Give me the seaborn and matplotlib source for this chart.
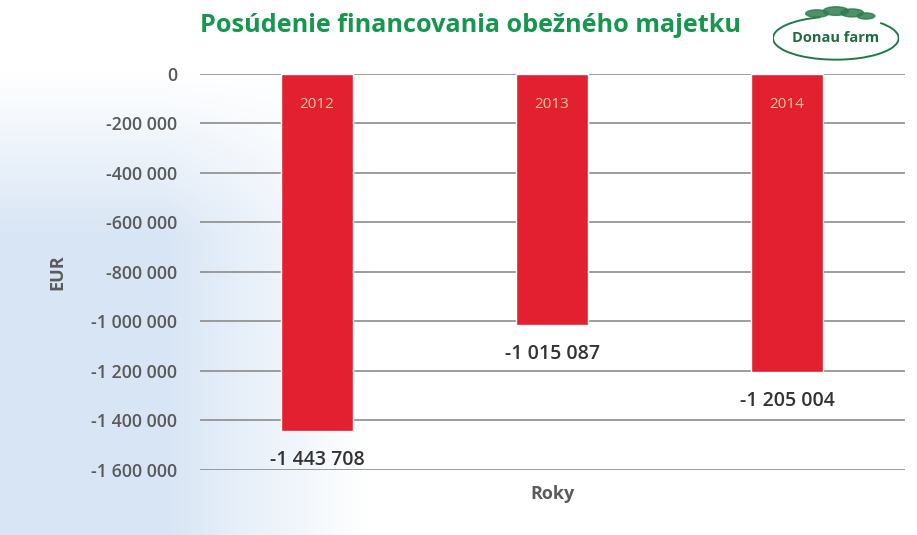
import numpy as np
import pandas as pd
import seaborn as sns
import matplotlib.pyplot as plt
from matplotlib.patches import Ellipse, Arc
from matplotlib.ticker import FuncFormatter

years = ['2012', '2013', '2014']
values = [-1443708, -1015087, -1205004]
value_labels = ['-1 443 708', '-1 015 087', '-1 205 004']

sns.set_theme(style='white')
plt.rcParams['font.family'] = ['Open Sans', 'DejaVu Sans']

fig = plt.figure(figsize=(9.17, 5.35), dpi=100)

# pale blue wash behind the chart (scanned slide look)
bg = fig.add_axes([0, 0, 1, 1], zorder=-10)
xx, yy = np.meshgrid(np.linspace(0, 1, 300), np.linspace(0, 1, 200))
wx = np.clip((0.40 - xx) / 0.22, 0, 1)
wy = np.clip((0.86 - yy) / 0.3, 0, 1)
wash = (wx * wy)[..., None]
pale = np.array([0.85, 0.90, 0.96])
rgb = np.ones((200, 300, 3)) * (1 - wash) + pale * wash
bg.imshow(rgb, extent=[0, 1, 0, 1], aspect='auto', origin='lower')
bg.set_xlim(0, 1); bg.set_ylim(0, 1)
bg.axis('off')

ax = fig.add_axes([0.2176, 0.1215, 0.7688, 0.7402])
ax.patch.set_alpha(0)
df = pd.DataFrame({'rok': years, 'eur': values})
sns.barplot(data=df, x='rok', y='eur', color='#e2202f', saturation=1,
            width=0.31, ax=ax, zorder=3)

ax.set_ylim(-1600000, 0)
ax.set_xlim(-0.5, 2.5)
ax.set_yticks(np.arange(-1600000, 1, 200000))
ax.yaxis.set_major_formatter(FuncFormatter(lambda v, p: f'{int(v):,}'.replace(',', ' ')))
ax.grid(axis='y', color='#8c8c8c', linewidth=1.2, zorder=0)
ax.set_axisbelow(True)
for s in ax.spines.values():
    s.set_visible(False)
ax.tick_params(axis='y', length=0, pad=16, labelsize=12.8, labelcolor='#5a5a5a')
ax.set_xticks([])
for t in ax.get_yticklabels():
    t.set_fontweight('semibold')

ax.set_xlabel('Roky', fontsize=13, color='#5a5a5a', fontweight='bold', labelpad=11)
ax.set_ylabel('EUR', fontsize=13, color='#5a5a5a', fontweight='bold', labelpad=18)

for i, (y, v, lab) in enumerate(zip(years, values, value_labels)):
    ax.text(i, -125000, y, ha='center', va='center', fontsize=11,
            color='#e9c6a6', zorder=5)
    ax.annotate(lab, (i, v), xytext=(0, -21), textcoords='offset points',
                ha='center', va='center', fontsize=14, fontweight='semibold',
                color='#333333', zorder=5)

fig.text(0.513, 0.953, 'Posúdenie financovania obežného majetku', ha='center',
         va='center', fontsize=18.2, fontweight='bold', color='#17964f')

# Donau farm logo
logo = fig.add_axes([0.843, 0.885, 0.137, 0.115])
logo.set_xlim(0, 1); logo.set_ylim(0, 1); logo.axis('off')
logo.add_patch(Arc((0.5, 0.38), 1.0, 0.7, theta1=110, theta2=395,
                   edgecolor='#1f7a4a', linewidth=1.4))
logo.text(0.5, 0.38, 'Donau farm', ha='center', va='center', fontsize=10.5,
          fontweight='bold', color='#1f6b44')
for cx, cy, w, h in [(0.35, 0.78, 0.18, 0.12), (0.5, 0.82, 0.2, 0.14),
                     (0.63, 0.79, 0.18, 0.13), (0.74, 0.74, 0.14, 0.1)]:
    logo.add_patch(Ellipse((cx, cy), w, h, color='#2e7d4f', alpha=0.85))

fig.savefig('out.png', dpi=100)
